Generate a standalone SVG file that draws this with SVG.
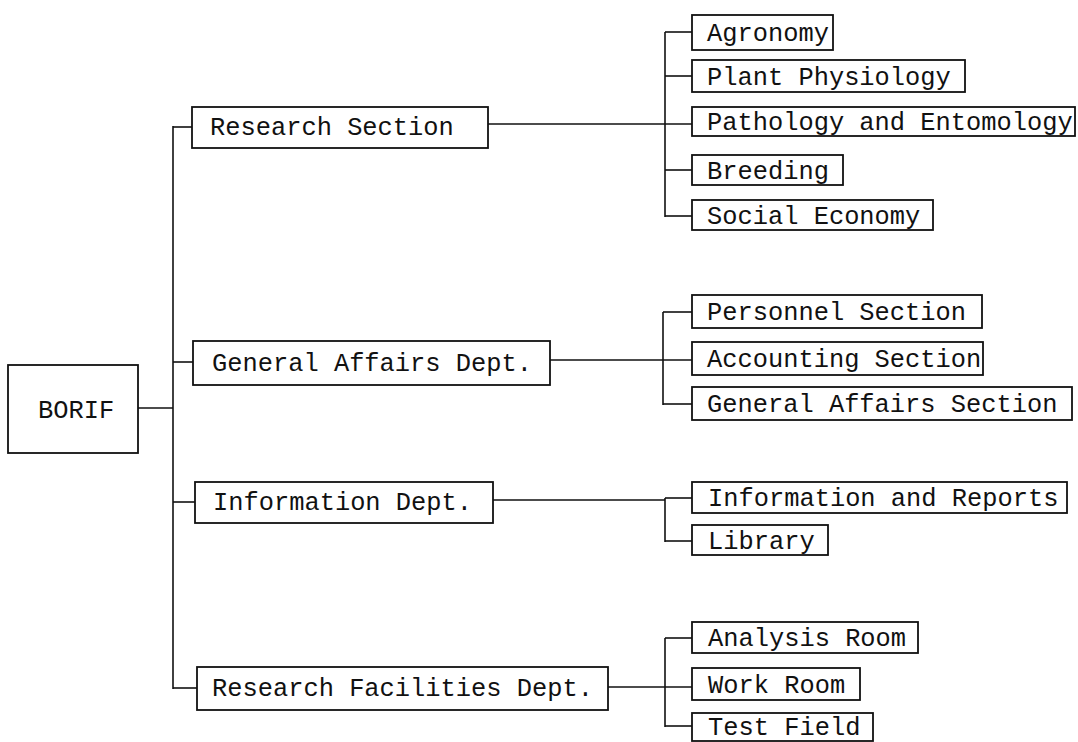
<svg xmlns="http://www.w3.org/2000/svg" width="1078" height="742" viewBox="0 0 1078 742">
<style>
rect.box{fill:#fff;stroke:#111;stroke-width:1.8}
text{font-family:"Liberation Mono","DejaVu Sans Mono",monospace;font-size:25.4px;fill:#111}
.conn line{stroke:#111;stroke-width:1.6}
</style>
<rect width="1078" height="742" fill="#fff"/>
<g class="conn" id="connectors">
<line x1="138" y1="408" x2="173" y2="408"/>
<line x1="173" y1="126" x2="173" y2="689"/>
<line x1="173" y1="127" x2="192" y2="127"/>
<line x1="173" y1="362" x2="193" y2="362"/>
<line x1="173" y1="502" x2="195" y2="502"/>
<line x1="173" y1="688" x2="197" y2="688"/>
<line x1="488" y1="124" x2="692" y2="124"/>
<line x1="665" y1="32" x2="665" y2="217"/>
<line x1="665" y1="32" x2="692" y2="32"/>
<line x1="665" y1="76" x2="692" y2="76"/>
<line x1="665" y1="170" x2="692" y2="170"/>
<line x1="665" y1="216" x2="692" y2="216"/>
<line x1="550" y1="360" x2="692" y2="360"/>
<line x1="663" y1="312" x2="663" y2="405"/>
<line x1="663" y1="312" x2="692" y2="312"/>
<line x1="663" y1="404" x2="692" y2="404"/>
<line x1="493" y1="500" x2="665" y2="500"/>
<line x1="665" y1="498" x2="692" y2="498"/>
<line x1="665" y1="498" x2="665" y2="542"/>
<line x1="665" y1="541" x2="692" y2="541"/>
<line x1="608" y1="687" x2="692" y2="687"/>
<line x1="665" y1="638" x2="665" y2="727"/>
<line x1="665" y1="638" x2="692" y2="638"/>
<line x1="665" y1="726" x2="692" y2="726"/>
</g>
<g id="borif"><rect class="box" x="8" y="365" width="130" height="88"/><text x="38" y="418">BORIF</text></g>
<g id="research-section"><rect class="box" x="192" y="107" width="296" height="41"/><text x="210" y="135">Research Section</text></g>
<g id="general-affairs-dept"><rect class="box" x="193" y="341" width="357" height="44"/><text x="212" y="371">General Affairs Dept.</text></g>
<g id="information-dept"><rect class="box" x="195" y="482" width="298" height="41"/><text x="213" y="510">Information Dept.</text></g>
<g id="research-facilities-dept"><rect class="box" x="197" y="667" width="411" height="43"/><text x="212" y="696">Research Facilities Dept.</text></g>
<g id="agronomy"><rect class="box" x="692" y="15" width="141" height="35"/><text x="707" y="41">Agronomy</text></g>
<g id="plant-physiology"><rect class="box" x="692" y="60" width="273" height="32"/><text x="707" y="85">Plant Physiology</text></g>
<g id="pathology"><rect class="box" x="692" y="107" width="383" height="29"/><text x="707" y="130">Pathology and Entomology</text></g>
<g id="breeding"><rect class="box" x="692" y="155" width="151" height="30"/><text x="707" y="179">Breeding</text></g>
<g id="social-economy"><rect class="box" x="692" y="200" width="241" height="30"/><text x="707" y="224">Social Economy</text></g>
<g id="personnel-section"><rect class="box" x="692" y="295" width="290" height="33"/><text x="707" y="320">Personnel Section</text></g>
<g id="accounting-section"><rect class="box" x="692" y="342" width="291" height="33"/><text x="707" y="367">Accounting Section</text></g>
<g id="general-affairs-section"><rect class="box" x="692" y="387" width="380" height="33"/><text x="707" y="412">General Affairs Section</text></g>
<g id="information-reports"><rect class="box" x="692" y="482" width="375" height="31"/><text x="708" y="506">Information and Reports</text></g>
<g id="library"><rect class="box" x="692" y="525" width="136" height="30"/><text x="708" y="549">Library</text></g>
<g id="analysis-room"><rect class="box" x="692" y="622" width="226" height="31"/><text x="708" y="646">Analysis Room</text></g>
<g id="work-room"><rect class="box" x="692" y="668" width="168" height="32"/><text x="708" y="693">Work Room</text></g>
<g id="test-field"><rect class="box" x="692" y="713" width="181" height="28"/><text x="708" y="735">Test Field</text></g>
</svg>
